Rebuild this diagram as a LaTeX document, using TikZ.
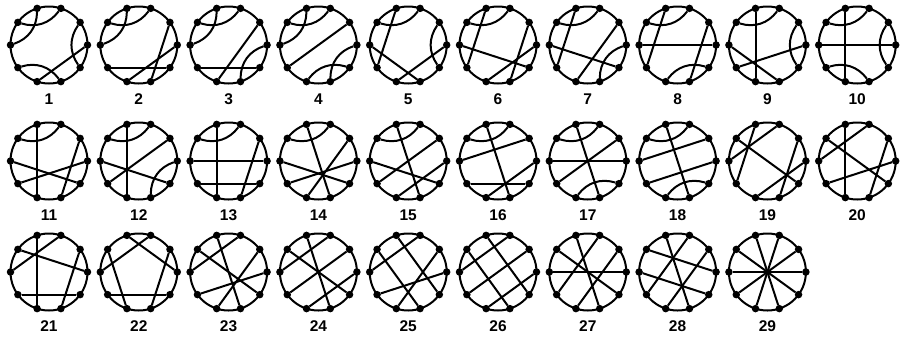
\documentclass[tikz,border=0pt]{standalone}
\usepackage{fontspec}
\setmainfont{Liberation Sans}
\usetikzlibrary{positioning}

\begin{document}
\begin{tikzpicture}[
    x=1pt, y=-1pt,
    ring/.style={circle, draw, line width=2pt, minimum size=77pt, inner sep=0pt, outer sep=0pt},
    dot/.style={circle, fill=black, minimum size=7.5pt, inner sep=0pt, outer sep=0pt},
    chord/.style={line width=2pt},
    tag/.style={font=\fontsize{15.5}{15.5}\selectfont\bfseries, inner sep=0pt, text height=11.2pt, text depth=0pt}
]
    \useasboundingbox (0,0) rectangle (901,338);

    % diagram number / chords (points 0..9 counterclockwise from the right)
    \foreach \n/\chords in {
        1/{2/4,3/5,1/9,0/7,6/8}, 2/{2/4,3/5,1/8,0/7,6/9}, 3/{2/4,3/5,1/7,6/9,0/8},
        4/{2/4,3/5,1/6,7/9,8/0}, 5/{2/4,3/6,1/9,5/8,0/7}, 6/{2/4,3/6,5/9,1/8,7/0},
        7/{2/4,3/6,5/9,1/7,0/8}, 8/{2/4,3/6,5/0,1/8,7/9}, 9/{2/4,3/7,1/9,5/8,6/0},
        10/{2/4,3/7,5/0,1/9,6/8}, 11/{2/4,3/7,5/9,6/0,1/8}, 12/{2/4,3/7,1/6,5/9,8/0},
        13/{2/4,3/7,5/0,6/9,1/8}, 14/{2/4,3/8,5/9,6/0,1/7}, 15/{2/4,3/8,1/6,5/9,0/7},
        16/{2/4,3/8,5/1,6/9,7/0}, 17/{2/4,3/8,5/0,1/6,7/9}, 18/{2/4,3/8,5/1,6/0,7/9},
        19/{3/6,4/9,5/2,1/8,0/7}, 20/{3/7,2/5,4/9,6/0,1/8}, 21/{3/7,2/5,4/0,6/9,1/8},
        22/{3/0,2/5,4/7,1/8,6/9}, 23/{2/5,4/9,3/8,6/0,1/7}, 24/{2/5,4/9,3/8,1/6,0/7},
        25/{2/5,3/9,4/8,1/7,6/0}, 26/{4/8,3/9,5/2,6/1,7/0}, 27/{5/0,3/8,2/6,4/9,1/7},
        28/{4/0,5/9,3/8,2/6,1/7}, 29/{0/5,1/6,2/7,3/8,4/9}} {
        \pgfmathtruncatemacro\col{mod(\n-1,10)}
        \pgfmathtruncatemacro\row{(\n-1)/10}
        \pgfmathsetmacro\cx{49+89.8*\col}
        \pgfmathsetmacro\cy{{45,161,272}[\row]}
        \node[ring] (d\n) at (\cx,\cy) {};
        \foreach \i [evaluate=\i as \ang using int(\i*36)] in {0,...,9}
            \node[dot] (d\n-\i) at (d\n.\ang) {};
        % short chords bend inwards, the others are straight
        \foreach \a/\b in \chords {
            \pgfmathtruncatemacro\gap{mod(\b-\a+10,10)}
            \ifnum\gap=2
                \draw[chord] (d\n-\a) to[bend left=35] (d\n-\b);
            \else\ifnum\gap=8
                \draw[chord] (d\n-\a) to[bend right=35] (d\n-\b);
            \else
                \draw[chord] (d\n-\a) -- (d\n-\b);
            \fi\fi
        }
        \node[tag, below=9.5pt of d\n] (t\n) {\n};
    }
\end{tikzpicture}
\end{document}
